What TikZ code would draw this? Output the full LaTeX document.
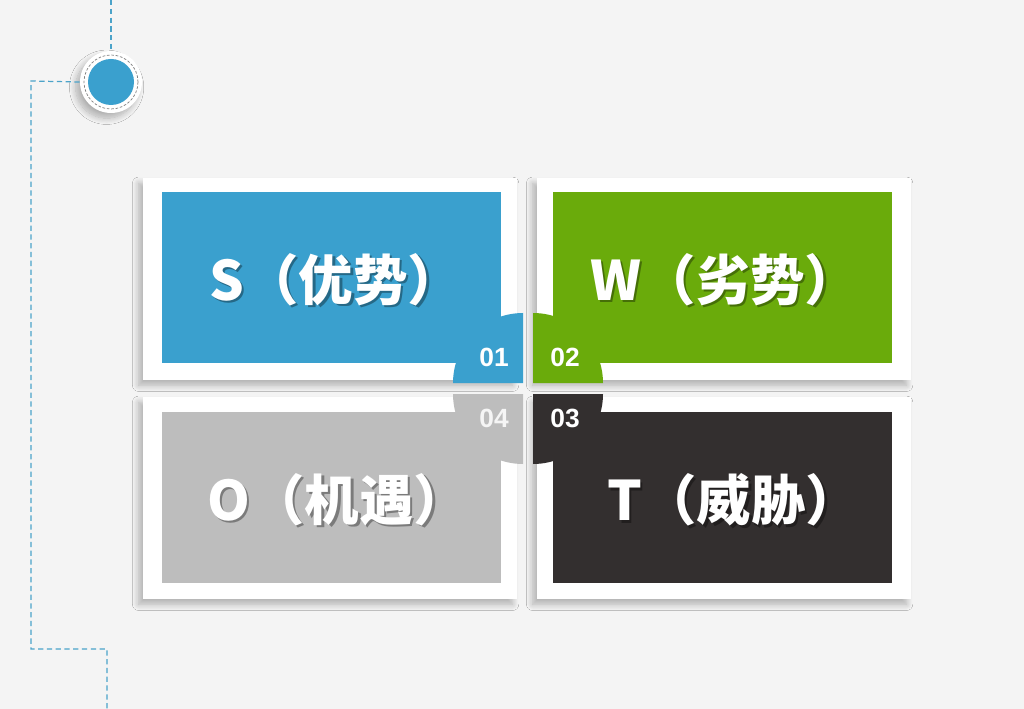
\documentclass[tikz,border=0pt]{standalone}
\usepackage{fontspec}
\newfontfamily\cjk{Noto Sans CJK SC}
\newfontfamily\numfont{Liberation Sans}
\usepackage{tikz}
\usetikzlibrary{shadows.blur}

\definecolor{bgcol}{HTML}{F4F4F4}
\definecolor{swotblue}{HTML}{3AA0CE}
\definecolor{swotgreen}{HTML}{6AAB0B}
\definecolor{swotgray}{HTML}{BDBDBD}
\definecolor{swotdark}{HTML}{332F2F}
\definecolor{trailblue}{HTML}{4BA3C9}

\tikzset{
  frame/.style={fill=white, blur shadow={shadow xshift=-2.5pt, shadow yshift=-3pt,
      shadow blur radius=3.5pt, shadow blur steps=12, shadow opacity=28}},
  swotlabel/.style={text=white, inner sep=0pt,
      font=\cjk\bfseries\fontsize{31}{36}\selectfont},
  labelshadow/.style={swotlabel, text=black, text opacity=0.35},
  num/.style={text=white, inner sep=0pt, font=\numfont\bfseries\fontsize{15}{17}\selectfont},
  trail/.style={draw=trailblue, line width=0.7pt, dash pattern=on 3pt off 2pt},
}

\begin{document}
\begin{tikzpicture}[x=0.02cm, y=-0.02cm]
  % background
  \fill[bgcol] (0,0) rectangle (1024,709);
  \useasboundingbox (0,0) rectangle (1024,709);

  % dashed trail
  \coordinate (top) at (111,0);
  \coordinate (bend1) at (31,81);
  \coordinate (bend2) at (31,649);
  \coordinate (bend3) at (107,649);
  \coordinate (bottom) at (107,709);
  \node[circle, frame, minimum size=1.24cm, inner sep=0pt] (dot) at (111,82) {};
  \draw[trail] (top) -- (dot.north);
  \draw[trail] (dot.west) -- (bend1) -- (bend2) -- (bend3) -- (bottom);
  \draw[gray, line width=0.4pt, dash pattern=on 1.5pt off 1pt] (dot.center) circle[radius=27];
  \fill[swotblue] (dot.center) circle[radius=23];

  % white frames
  \foreach \fx/\fy in {143/178, 537/178, 143/397, 537/397}{
    \fill[frame] (\fx,\fy) rectangle ++(374,202);
  }

  % coloured panels and labels
  \foreach \px/\py/\col/\name/\txt/\lx/\ly in {
      162/192/swotblue/S/S（优势）/336/280,
      553/192/swotgreen/W/W（劣势）/725/280,
      162/412/swotgray/O/O（机遇）/338/500,
      553/412/swotdark/T/T（威胁）/734/500}{
    \fill[\col] (\px,\py) rectangle ++(339,171);
    \node[labelshadow, xshift=1.3pt, yshift=-1.3pt] at (\lx,\ly) {\txt};
    \node[swotlabel] (lab\name) at (\lx,\ly) {\txt};
  }

  % centre quarters
  \fill[swotblue] (523,383) -- (453,383) arc[start angle=180, end angle=270, radius=70] -- cycle;
  \fill[swotgreen] (533,383) -- (533,313) arc[start angle=270, end angle=360, radius=70] -- cycle;
  \fill[swotdark] (533,394) -- (603,394) arc[start angle=0, end angle=90, radius=70] -- cycle;
  \fill[swotgray] (523,394) -- (523,464) arc[start angle=90, end angle=180, radius=70] -- cycle;

  \node[num] (n01) at (494,357) {01};
  \node[num] (n02) at (565,357) {02};
  \node[num] (n03) at (565,418) {03};
  \node[num, text=white!92!gray] (n04) at (494,418) {04};
\end{tikzpicture}
\end{document}
